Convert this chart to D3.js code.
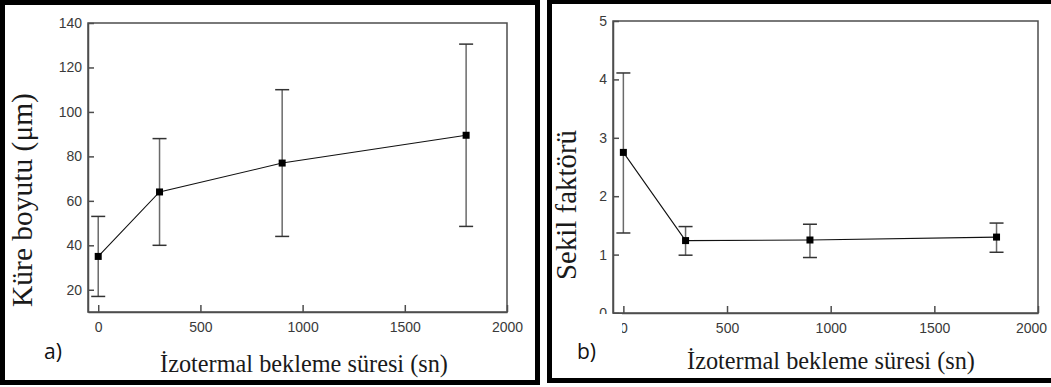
<!DOCTYPE html>
<html>
<head>
<meta charset="utf-8">
<script src="https://cdn.jsdelivr.net/npm/d3@7"></script>
<style>
  html, body { margin: 0; padding: 0; background: #fff; }
  svg { display: block; }
</style>
</head>
<body>
<svg id="chart" width="1051" height="387"></svg>
<script>
// isothermal holding time (s)
const holdTimes = [0, 300, 900, 1800];

// a) globule size (µm)
const sizeMean  = [35, 64, 77, 89.5];
const sizeUpper = [53, 88, 110, 130.5];
const sizeLower = [17, 40, 44, 48.5];

// b) shape factor
const shapeMean  = [2.75, 1.24, 1.25, 1.3];
const shapeUpper = [4.11, 1.48, 1.52, 1.54];
const shapeLower = [1.37, 0.99, 0.95, 1.04];

const xTicks = [0, 500, 1000, 1500, 2000];
const sizeTicks = [20, 40, 60, 80, 100, 120, 140];
const shapeTicks = [0, 1, 2, 3, 4, 5];

const xTitle = "İzotermal bekleme süresi (sn)";

const svg = d3.select("#chart");

const frameColor = "#4d4d4d";
const barColor = "#6a6a6a";

// fit a text node to a measured pixel width
const fitWidth = (sel, target) => {
  const w = sel.node().getComputedTextLength();
  const fs = parseFloat(sel.attr("font-size"));
  sel.attr("font-size", fs * target / w);
};

const drawPanel = (cfg) => {
  const g = svg.append("g");

  const x = d3.scaleLinear().domain([-50, 2000]).range(cfg.xRange);
  const y = d3.scaleLinear().domain(cfg.yDomain).range(cfg.yRange);

  // outer black panel border
  g.append("rect")
    .attr("x", cfg.border[0]).attr("y", cfg.border[1])
    .attr("width", cfg.border[2]).attr("height", cfg.border[3])
    .attr("fill", "none").attr("stroke", "#000").attr("stroke-width", 5);

  // plot frame
  g.append("rect")
    .attr("x", cfg.xRange[0]).attr("y", cfg.yRange[1])
    .attr("width", cfg.xRange[1] - cfg.xRange[0])
    .attr("height", cfg.yRange[0] - cfg.yRange[1])
    .attr("fill", "none").attr("stroke", frameColor).attr("stroke-width", 1.5);

  const fmt = d3.format("d");

  const yAxis = g.append("g")
    .attr("transform", `translate(${cfg.xRange[0]},0)`)
    .call(d3.axisLeft(y).tickValues(cfg.yTicks).tickFormat(fmt)
      .tickSizeInner(-6).tickSizeOuter(0).tickPadding(6));

  const xAxis = g.append("g")
    .attr("transform", `translate(0,${cfg.yRange[0]})`)
    .call(d3.axisBottom(x).tickValues(xTicks).tickFormat(fmt)
      .tickSizeInner(-7).tickSizeOuter(0).tickPadding(10));

  [xAxis, yAxis].forEach(ax => {
    ax.select(".domain").attr("stroke", frameColor).attr("stroke-width", 1.5);
    ax.selectAll(".tick line").attr("stroke", frameColor).attr("stroke-width", 1.5);
    ax.selectAll(".tick text")
      .attr("font-family", "'Liberation Sans', Arial, sans-serif")
      .attr("font-size", 14)
      .attr("fill", "#3a3a3a");
  });

  // last x label sits a little inside on panel b
  if (cfg.lastLabelShift) {
    xAxis.selectAll(".tick text").filter(d => d === 2000).attr("dx", cfg.lastLabelShift);
  }

  const pts = holdTimes.map((t, i) => ({ t, m: cfg.mean[i], hi: cfg.upper[i], lo: cfg.lower[i] }));

  // error bars
  const bars = g.append("g");
  bars.selectAll(".ebar").data(pts).enter().append("line")
    .attr("x1", d => x(d.t)).attr("x2", d => x(d.t))
    .attr("y1", d => y(d.hi)).attr("y2", d => y(d.lo))
    .attr("stroke", barColor).attr("stroke-width", 1.5);
  ["hi", "lo"].forEach(k => {
    bars.selectAll(".cap-" + k).data(pts).enter().append("line")
      .attr("x1", d => x(d.t) - 7).attr("x2", d => x(d.t) + 7)
      .attr("y1", d => y(d[k])).attr("y2", d => y(d[k]))
      .attr("stroke", "#333").attr("stroke-width", 1.5);
  });

  // connecting line
  g.append("path")
    .datum(pts)
    .attr("d", d3.line().x(d => x(d.t)).y(d => y(d.m)))
    .attr("fill", "none").attr("stroke", "#111").attr("stroke-width", 1.1);

  // square markers
  g.selectAll(".mk").data(pts).enter().append("rect")
    .attr("x", d => x(d.t) - 3.5).attr("y", d => y(d.m) - 3.5)
    .attr("width", 7).attr("height", 7)
    .attr("fill", "#000");

  // axis titles
  const yt = g.append("text")
    .attr("transform", `translate(${cfg.yTitlePos[0]},${cfg.yTitlePos[1]}) rotate(-90)`)
    .attr("text-anchor", "middle")
    .attr("font-family", "'Liberation Serif', 'Times New Roman', serif")
    .attr("font-size", 22)
    .attr("fill", "#1a1a1a")
    .text(cfg.yTitle);
  fitWidth(yt, cfg.yTitleWidth);

  const xt = g.append("text")
    .attr("x", cfg.xTitlePos[0]).attr("y", cfg.xTitlePos[1])
    .attr("text-anchor", "middle")
    .attr("font-family", "'Liberation Serif', 'Times New Roman', serif")
    .attr("font-size", 22)
    .attr("fill", "#1a1a1a")
    .text(xTitle);
  fitWidth(xt, 288);

  // white patch pasted over the corner (panel b)
  if (cfg.patch) {
    g.append("rect")
      .attr("x", cfg.patch[0]).attr("y", cfg.patch[1])
      .attr("width", cfg.patch[2]).attr("height", cfg.patch[3])
      .attr("fill", "#fff");
  }

  g.append("text")
    .attr("x", cfg.tagPos[0]).attr("y", cfg.tagPos[1])
    .attr("font-family", "'Open Sans', 'Noto Sans', sans-serif")
    .attr("font-size", 21)
    .attr("fill", "#111")
    .text(cfg.tag);
};

drawPanel({
  border: [2.5, 2.5, 535, 380],
  xRange: [88, 507],
  yRange: [312, 23],
  yDomain: [10, 140],
  yTicks: sizeTicks,
  mean: sizeMean, upper: sizeUpper, lower: sizeLower,
  yTitle: "Küre boyutu (μm)",
  yTitlePos: [32, 200],
  yTitleWidth: 214,
  xTitlePos: [304, 372],
  tag: "a)",
  tagPos: [44, 359]
});

drawPanel({
  border: [549.5, 1.5, 515, 379],
  xRange: [613, 1038],
  yRange: [313, 21],
  yDomain: [0, 5],
  yTicks: shapeTicks,
  mean: shapeMean, upper: shapeUpper, lower: shapeLower,
  yTitle: "Sekil faktörü",
  yTitlePos: [576, 205],
  yTitleWidth: 150,
  xTitlePos: [831, 369],
  lastLabelShift: -7,
  patch: [553, 314, 69, 64],
  tag: "b)",
  tagPos: [577, 359]
});
</script>
</body>
</html>
